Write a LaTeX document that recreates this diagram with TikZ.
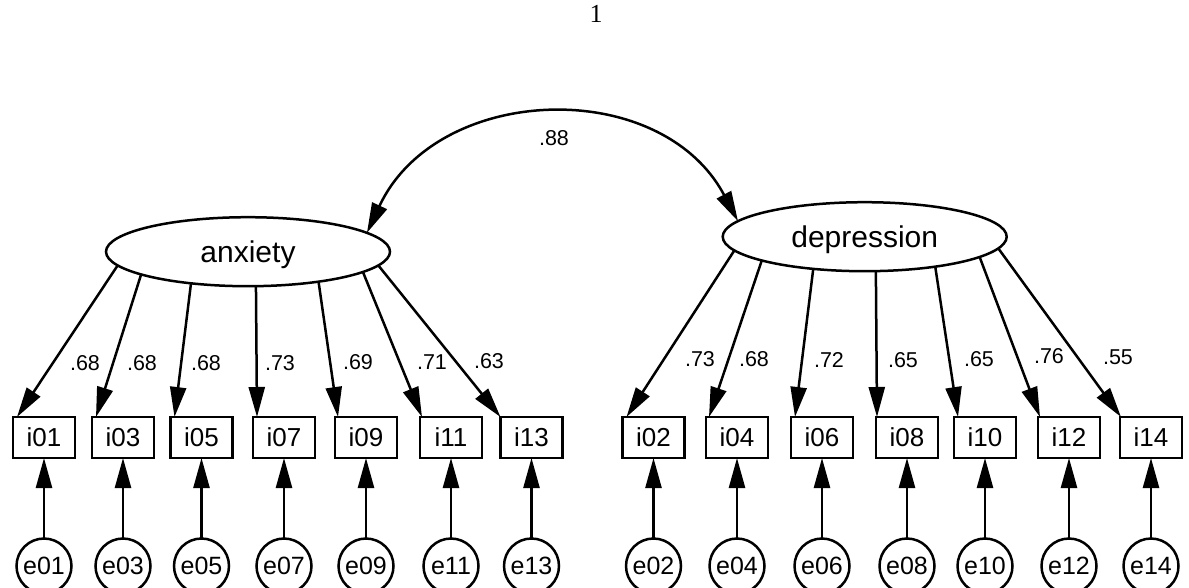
\documentclass[tikz,border=0pt]{standalone}
\usepackage{fontspec}
\setmainfont{Liberation Sans}
\newfontfamily\pagefont{Liberation Serif}
\usetikzlibrary{arrows.meta,shapes.geometric}

\begin{document}
\begin{tikzpicture}[x=1pt,y=1pt,
  every node/.style={inner sep=0pt, outer sep=0pt},
  latent/.style={draw, ellipse, line width=2.5pt, minimum width=284pt, minimum height=69pt,
    text height=22pt, text depth=0pt, font=\fontsize{30}{36}\selectfont},
  indicator/.style={draw, rectangle, line width=2.5pt, minimum width=62pt, minimum height=41pt,
    font=\fontsize{26}{30}\selectfont},
  errterm/.style={draw, circle, line width=2.5pt, minimum size=55pt,
    font=\fontsize{25}{30}\selectfont},
  coef/.style={font=\fontsize{21.5}{26}\selectfont},
  headtip/.tip={Triangle[length=30pt,width=16pt]},
  regpath/.style={line width=2.5pt, -headtip},
  covpath/.style={line width=2.5pt, headtip-headtip},
]
\useasboundingbox (0,0) rectangle (1189,-587);

% page number
\node[font=\pagefont\fontsize{26}{30}\selectfont] (pg) at (596,-14) {1};

% latent factors
\node[latent] (anx) at (248,-251.7) {anxiety};
\node[latent] (dep) at (864.7,-236.7) {depression};

% factor covariance
\draw[covpath] (anx.9) .. controls +(65:165pt) and +(118:165pt) .. (dep.173);
\node[coef] (r) at (554,-138) {.88};

% observed items and their error terms
\foreach \n/\x in {01/44,03/123,05/201.5,07/284,09/366,11/451,13/531.5,
                   02/653.5,04/737,06/822,08/907,10/985,12/1069,14/1151}{
  \node[indicator] (i\n) at (\x,-437.5) {i\n};
  \node[errterm] (e\n) at (\x,-566) {e\n};
  \draw[regpath] (e\n) -- (i\n);
}

% loadings of anxiety
\draw[regpath] (anx.186) -- ([xshift=4pt]i01.north west);
\draw[regpath] (anx.192) -- ([xshift=4pt]i03.north west);
\draw[regpath] (anx.209) -- ([xshift=4pt]i05.north west);
\draw[regpath] (anx.283) -- ([xshift=4pt]i07.north west);
\draw[regpath] (anx.337) -- ([xshift=3pt]i09.north west);
\draw[regpath] (anx.350) -- ([xshift=2pt]i11.north west);
\draw[regpath] (anx.354) -- (i13.north west);

% loadings of depression
\draw[regpath] (dep.186) -- ([xshift=4pt]i02.north west);
\draw[regpath] (dep.193) -- ([xshift=3pt]i04.north west);
\draw[regpath] (dep.212) -- ([xshift=4pt]i06.north west);
\draw[regpath] (dep.288) -- ([xshift=1pt]i08.north west);
\draw[regpath] (dep.337) -- ([xshift=4pt]i10.north west);
\draw[regpath] (dep.350) -- ([xshift=2pt]i12.north west);
\draw[regpath] (dep.355) -- ([xshift=1pt]i14.north west);

% standardized loadings
\node[coef] (l01) at (85,-363) {.68};
\node[coef] (l03) at (142,-363) {.68};
\node[coef] (l05) at (206,-363) {.68};
\node[coef] (l07) at (280,-363) {.73};
\node[coef] (l09) at (358,-362) {.69};
\node[coef] (l11) at (432,-362) {.71};
\node[coef] (l13) at (489,-361) {.63};
\node[coef] (l02) at (700,-359) {.73};
\node[coef] (l04) at (754,-359) {.68};
\node[coef] (l06) at (829,-360) {.72};
\node[coef] (l08) at (903,-360) {.65};
\node[coef] (l10) at (979,-359) {.65};
\node[coef] (l12) at (1049,-356) {.76};
\node[coef] (l14) at (1118,-357) {.55};
\end{tikzpicture}
\end{document}
